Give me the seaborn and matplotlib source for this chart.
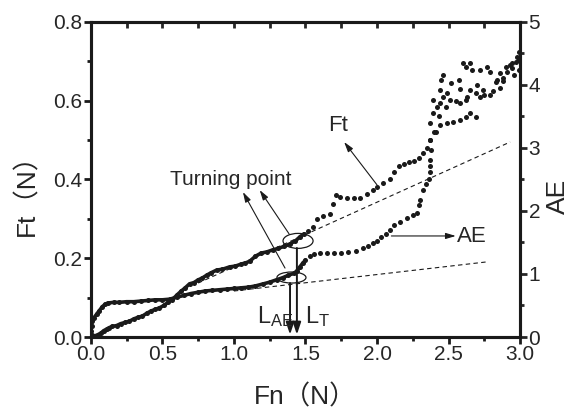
import matplotlib
matplotlib.use('Agg')

import pandas as pd
import seaborn as sns
import matplotlib.pyplot as plt
from matplotlib.patches import Ellipse
from matplotlib.ticker import MultipleLocator

# Ft trace (left axis)
ft_fn = [0.00, 0.01, 0.03, 0.05, 0.07, 0.09, 0.11, 0.13, 0.15, 0.18, 0.21, 0.24, 0.27, 0.30,
         0.33, 0.36, 0.39, 0.42, 0.45, 0.48, 0.51, 0.54, 0.57, 0.60, 0.63, 0.66, 0.69, 0.72,
         0.75, 0.78, 0.81, 0.84, 0.88, 0.92, 0.97, 1.01, 1.05, 1.08, 1.11, 1.15, 1.19, 1.23,
         1.27, 1.31, 1.35, 1.39, 1.43, 1.46, 1.49, 1.52, 1.55, 1.58, 1.62, 1.67, 1.69, 1.71,
         1.74, 1.79, 1.84, 1.88, 1.93, 1.97, 2.00, 2.04, 2.09, 2.12, 2.15, 2.19, 2.22, 2.26,
         2.29, 2.32, 2.35, 2.37, 2.40]
ft_val = [0.000, 0.004, 0.003, 0.006, 0.010, 0.016, 0.020, 0.024, 0.027, 0.029, 0.034, 0.037,
          0.040, 0.046, 0.050, 0.053, 0.060, 0.066, 0.070, 0.074, 0.080, 0.088, 0.095, 0.106,
          0.116, 0.125, 0.135, 0.138, 0.145, 0.150, 0.157, 0.163, 0.170, 0.172, 0.178, 0.180,
          0.185, 0.188, 0.192, 0.205, 0.213, 0.216, 0.221, 0.225, 0.230, 0.236, 0.244, 0.254,
          0.262, 0.270, 0.280, 0.300, 0.308, 0.312, 0.338, 0.360, 0.356, 0.352, 0.352, 0.354,
          0.362, 0.372, 0.382, 0.390, 0.400, 0.420, 0.434, 0.440, 0.444, 0.448, 0.455, 0.468,
          0.480, 0.500, 0.520]
# Ft scattered cloud
ft_cloud_fn = [2.37, 2.39, 2.42, 2.44, 2.46, 2.39, 2.44, 2.45, 2.46, 2.49, 2.51, 2.52, 2.57,
               2.60, 2.62, 2.65, 2.66, 2.72, 2.77, 2.79, 2.83, 2.86, 2.90, 2.93, 2.94, 2.98,
               2.99, 2.99, 2.96, 2.43, 2.48, 2.55, 2.58, 2.70, 2.75, 2.81, 2.88]
ft_cloud = [0.543, 0.569, 0.584, 0.594, 0.610, 0.602, 0.627, 0.653, 0.665, 0.620, 0.602, 0.645,
            0.653, 0.696, 0.686, 0.696, 0.678, 0.678, 0.686, 0.673, 0.648, 0.670, 0.686, 0.691,
            0.696, 0.711, 0.724, 0.678, 0.665, 0.560, 0.585, 0.600, 0.630, 0.640, 0.615, 0.625,
            0.650]

# AE trace (right axis)
ae_fn = [0.00, 0.00, 0.005, 0.01, 0.02, 0.04, 0.06, 0.08, 0.10, 0.12, 0.16, 0.20, 0.25, 0.30,
         0.35, 0.40, 0.45, 0.50, 0.55, 0.60, 0.65, 0.70, 0.75, 0.80, 0.85, 0.90, 0.95, 1.00,
         1.05, 1.10, 1.15, 1.20, 1.25, 1.30, 1.34, 1.38, 1.42, 1.44, 1.46, 1.48, 1.50, 1.53,
         1.56, 1.60, 1.65, 1.70, 1.75, 1.80, 1.85, 1.90, 1.94, 1.97, 2.00, 2.03, 2.06, 2.09,
         2.12, 2.16, 2.21, 2.25, 2.28, 2.29, 2.30, 2.32, 2.34, 2.36, 2.37, 2.37]
ae_val = [0.00, 0.10, 0.18, 0.26, 0.30, 0.36, 0.42, 0.48, 0.52, 0.54, 0.55, 0.55, 0.56, 0.56,
          0.57, 0.58, 0.59, 0.59, 0.60, 0.63, 0.66, 0.69, 0.71, 0.73, 0.74, 0.75, 0.76, 0.77,
          0.78, 0.79, 0.81, 0.84, 0.87, 0.91, 0.94, 0.98, 1.01, 1.05, 1.11, 1.17, 1.22, 1.28,
          1.32, 1.33, 1.33, 1.34, 1.34, 1.35, 1.37, 1.41, 1.45, 1.49, 1.53, 1.58, 1.64, 1.70,
          1.77, 1.83, 1.89, 1.93, 1.97, 2.10, 2.17, 2.33, 2.42, 2.50, 2.62, 2.72]
# AE scattered cloud
ae_cloud_fn = [2.37, 2.38, 2.37, 2.41, 2.44, 2.49, 2.53, 2.58, 2.62, 2.65, 2.69, 2.58, 2.62,
               2.63, 2.65, 2.69, 2.72, 2.74, 2.79, 2.84, 2.86, 2.88, 2.91, 2.94, 2.97, 2.99]
ae_cloud = [2.81, 2.97, 3.13, 3.25, 3.37, 3.40, 3.41, 3.44, 3.49, 3.56, 3.49, 3.71, 3.76, 3.81,
            3.92, 3.87, 3.81, 3.92, 3.84, 4.08, 3.95, 4.11, 4.21, 4.27, 4.37, 4.40]

# dashed trend lines
ft_trend_fn = [0.75, 2.93]
ft_trend = [0.137, 0.495]
ae_trend_fn = [1.00, 2.76]
ae_trend = [0.73, 1.19]

sns.set_theme(style='ticks')
plt.rcParams['font.family'] = ['Liberation Sans', 'Noto Sans CJK SC', 'DejaVu Sans']
plt.rcParams['mathtext.fontset'] = 'custom'
plt.rcParams['mathtext.rm'] = 'Liberation Sans'

fig = plt.figure(figsize=(5.71, 4.12), dpi=100)
ax = fig.add_axes([0.159, 0.182, 0.752, 0.765])
ax2 = ax.twinx()

ft_df = pd.DataFrame({'Fn': ft_fn, 'Ft': ft_val})
ft_cl = pd.DataFrame({'Fn': ft_cloud_fn, 'Ft': ft_cloud})
ae_df = pd.DataFrame({'Fn': ae_fn, 'AE': ae_val})
ae_cl = pd.DataFrame({'Fn': ae_cloud_fn, 'AE': ae_cloud})

# dense early part drawn as a thick trace, the rest as dots
sns.lineplot(data=ft_df[ft_df.Fn <= 1.5], x='Fn', y='Ft', ax=ax, sort=False,
             estimator=None, color='k', lw=2.6)
sns.scatterplot(data=pd.concat([ft_df, ft_cl]), x='Fn', y='Ft', ax=ax, color='k', s=13,
                linewidth=0)
sns.lineplot(data=ae_df[ae_df.Fn <= 1.5], x='Fn', y='AE', ax=ax2, sort=False,
             estimator=None, color='k', lw=2.6)
sns.scatterplot(data=pd.concat([ae_df, ae_cl]), x='Fn', y='AE', ax=ax2, color='k', s=13,
                linewidth=0)

ax.plot(ft_trend_fn, ft_trend, color='k', lw=0.8, linestyle=(0, (4, 3)))
ax2.plot(ae_trend_fn, ae_trend, color='k', lw=0.8, linestyle=(0, (4, 3)))

ax.set_xlim(0, 3.0)
ax.set_ylim(0, 0.8)
ax2.set_ylim(0, 5)
ax.xaxis.set_major_locator(MultipleLocator(0.5))
ax.xaxis.set_minor_locator(MultipleLocator(0.25))
ax.yaxis.set_major_locator(MultipleLocator(0.2))
ax.yaxis.set_minor_locator(MultipleLocator(0.1))
ax2.yaxis.set_major_locator(MultipleLocator(1))
ax2.yaxis.set_minor_locator(MultipleLocator(0.5))

for a in (ax, ax2):
    for sp in a.spines.values():
        sp.set_linewidth(2.2)
        sp.set_color('k')

ax.tick_params(axis='both', which='major', direction='out', length=5, width=2, labelsize=15,
               pad=1, color='k', top=False, right=False)
ax.tick_params(axis='both', which='minor', direction='out', length=3, width=2, color='k',
               top=False, right=False)
ax2.tick_params(axis='y', which='major', direction='out', length=5, width=2, labelsize=15, pad=1)
ax2.tick_params(axis='y', which='minor', direction='out', length=3, width=2)
ax2.xaxis.set_visible(True)
ax2.set_xlabel('')
ax2.tick_params(axis='x', which='both', bottom=False, top=True, labelbottom=False,
                labeltop=False, direction='in', length=4, width=2)

ax.set_xlabel('Fn（N）', fontsize=19)
ax.set_ylabel('Ft（N）', fontsize=19)
ax2.set_ylabel('AE', fontsize=19)
ax.xaxis.set_label_coords(0.5, -0.15)
ax.yaxis.set_label_coords(-0.12, 0.47)
ax2.yaxis.set_label_coords(1.06, 0.445)

# annotations
ax.text(0.98, 0.399, 'Turning point', ha='center', va='center', fontsize=15)
ax.text(1.73, 0.538, 'Ft', ha='center', va='center', fontsize=16)
ax.text(2.66, 0.254, 'AE', ha='center', va='center', fontsize=16)
arr = dict(arrowstyle='-|>,head_length=0.5,head_width=0.15', lw=0.8, color='k',
           shrinkA=0, shrinkB=0)
ax.annotate('', xy=(1.77, 0.495), xytext=(2.00, 0.386), arrowprops=arr)
ax.annotate('', xy=(2.55, 0.2565), xytext=(2.10, 0.2565), arrowprops=arr)
ax.annotate('', xy=(1.063, 0.368), xytext=(1.357, 0.175), arrowprops=arr)
ax.annotate('', xy=(1.18, 0.373), xytext=(1.385, 0.262), arrowprops=arr)

ax.add_patch(Ellipse((1.448, 0.244), 0.21, 0.038, fill=False, lw=0.9, color='k'))
ax.add_patch(Ellipse((1.402, 0.151), 0.203, 0.028, fill=False, lw=0.9, color='k'))
varr = dict(arrowstyle='-|>,head_length=0.6,head_width=0.2', lw=1.4, color='k',
            shrinkA=0, shrinkB=0)
ax.annotate('', xy=(1.392, 0.006), xytext=(1.392, 0.137), arrowprops=varr)
ax.annotate('', xy=(1.44, 0.006), xytext=(1.44, 0.226), arrowprops=varr)
ax.text(1.16, 0.036, r'$\mathrm{L_{AE}}$', ha='left', va='baseline', fontsize=17)
ax.text(1.497, 0.036, r'$\mathrm{L_{T}}$', ha='left', va='baseline', fontsize=17)

plt.savefig('out.png', dpi=100)
